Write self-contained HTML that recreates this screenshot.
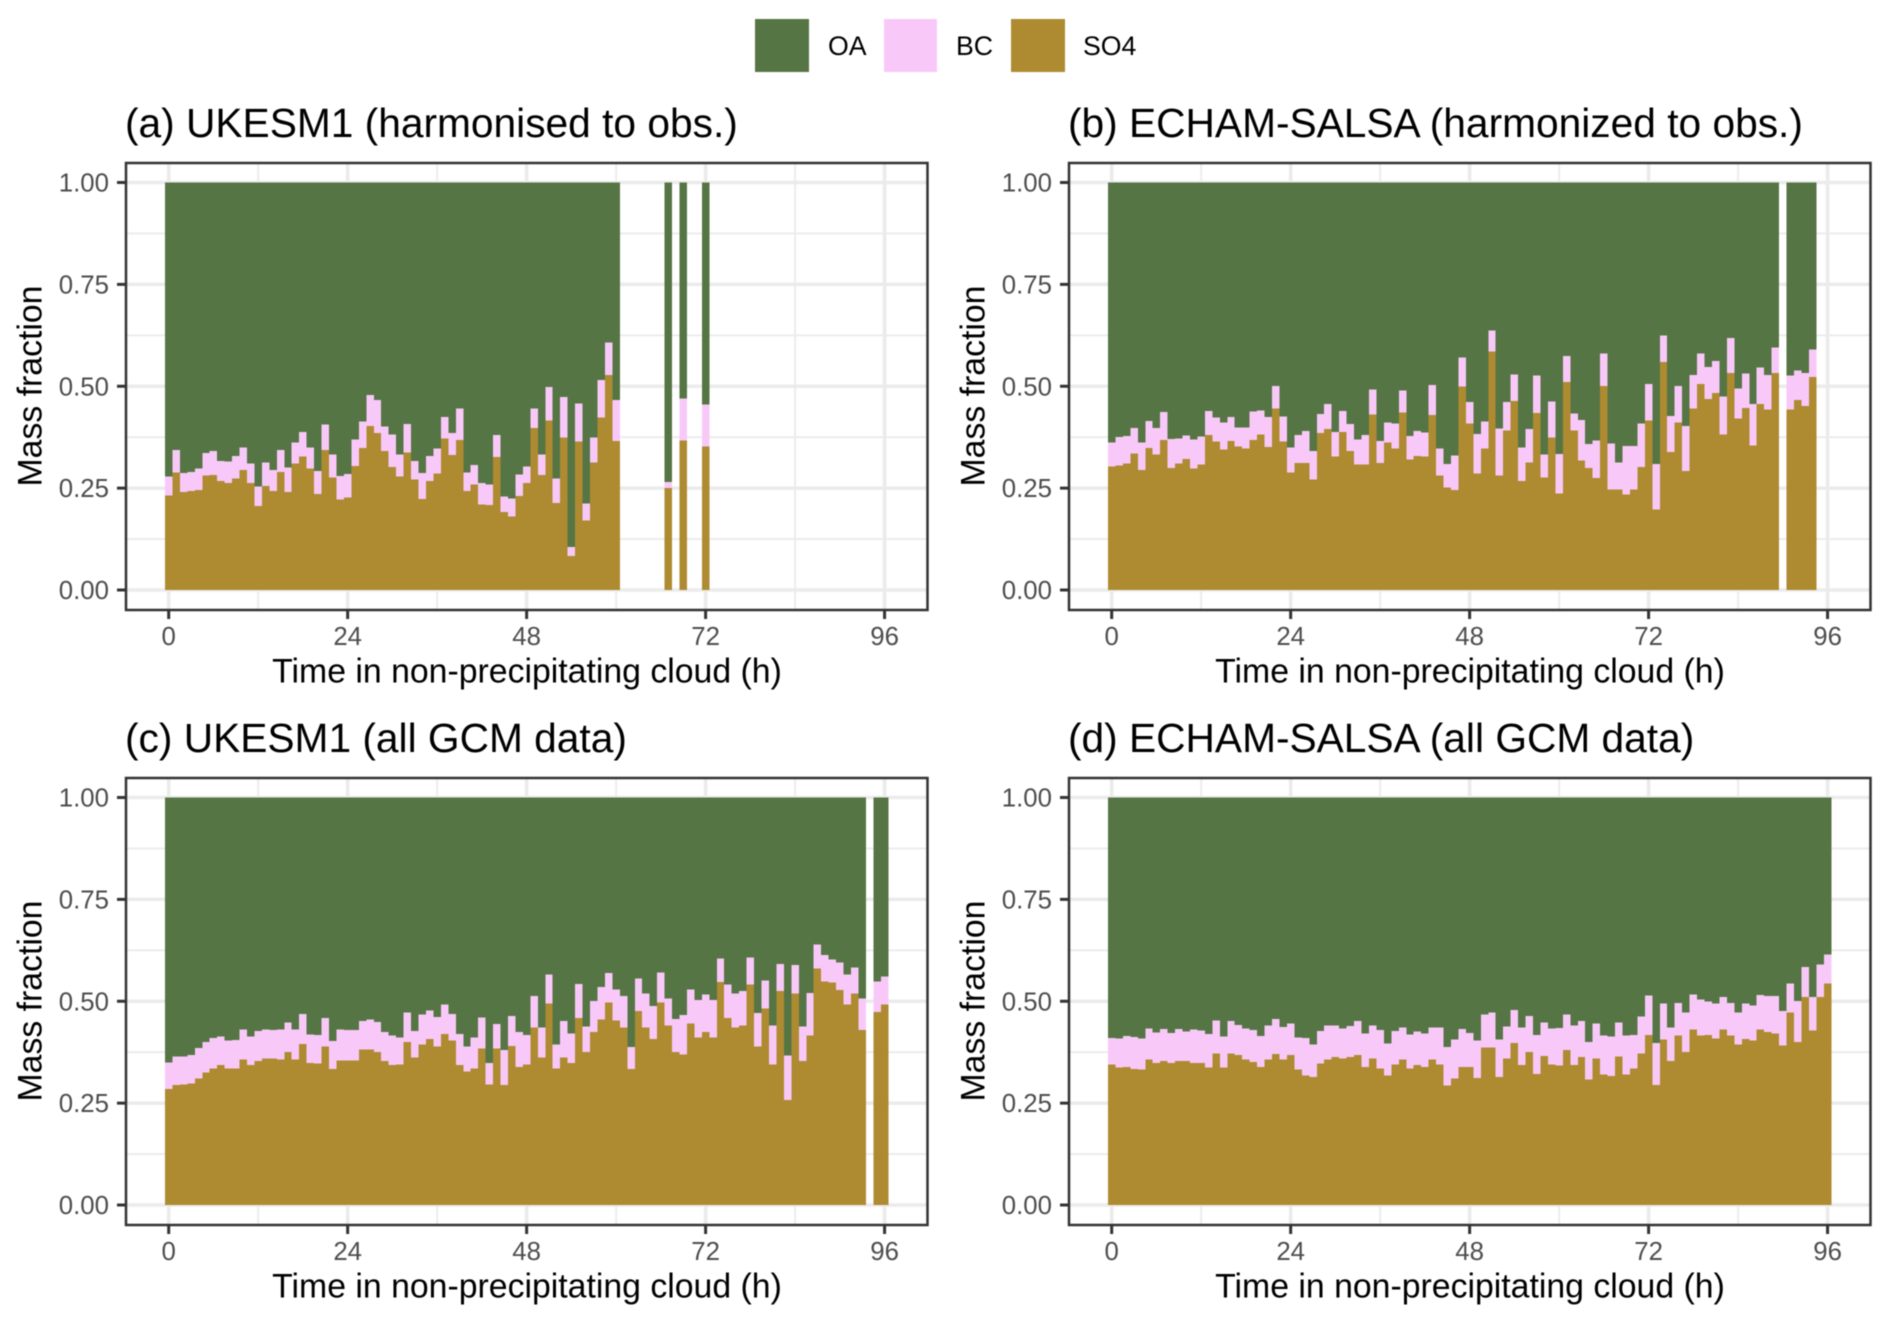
<!DOCTYPE html>
<html lang="en">
<head>
<meta charset="utf-8">
<title>Aerosol mass fraction vs time in non-precipitating cloud</title>
<style>
  html, body { margin: 0; padding: 0; background: #fff; }
  #figure { display: block; width: 1892px; height: 1323px; filter: blur(0.5px); font-family: "Liberation Sans", Arial, sans-serif; }
  .panel-title { font-size: 40.7px; fill: #000; }
  .axis-title { font-size: 33.8px; fill: #000; }
  .tick-label { font-size: 25.8px; fill: #4d4d4d; }
  .legend-label { font-size: 26.7px; fill: #000; }
</style>
</head>
<body>
<svg id="figure" xmlns="http://www.w3.org/2000/svg" width="1892" height="1323" viewBox="0 0 1892 1323">
  <rect x="0" y="0" width="1892" height="1323" fill="#ffffff"/>

  <g>
    <rect x="755" y="19" width="54" height="53" fill="#567545"/>
    <text class="legend-label" x="828" y="55">OA</text>
    <rect x="884" y="19" width="53" height="53" fill="#f8c9f8"/>
    <text class="legend-label" x="956" y="55">BC</text>
    <rect x="1011" y="19" width="54" height="53" fill="#ae8a31"/>
    <text class="legend-label" x="1083" y="55">SO4</text>
  </g>

  <g id="panel-a" transform="translate(126,163)">
    <g class="plot"></g>
    <text class="panel-title" x="-1" y="-26">(a) UKESM1 (harmonised to obs.)</text>
    <text class="axis-title" x="401" y="519.3" text-anchor="middle">Time in non-precipitating cloud (h)</text>
    <text class="axis-title" transform="translate(-84.4,223) rotate(-90)" text-anchor="middle">Mass fraction</text>
  </g>
  <g id="panel-b" transform="translate(1069,163)">
    <g class="plot"></g>
    <text class="panel-title" x="-1" y="-26">(b) ECHAM-SALSA (harmonized to obs.)</text>
    <text class="axis-title" x="401" y="519.3" text-anchor="middle">Time in non-precipitating cloud (h)</text>
    <text class="axis-title" transform="translate(-84.4,223) rotate(-90)" text-anchor="middle">Mass fraction</text>
  </g>
  <g id="panel-c" transform="translate(126,778)">
    <g class="plot"></g>
    <text class="panel-title" x="-1" y="-26">(c) UKESM1 (all GCM data)</text>
    <text class="axis-title" x="401" y="519.3" text-anchor="middle">Time in non-precipitating cloud (h)</text>
    <text class="axis-title" transform="translate(-84.4,223) rotate(-90)" text-anchor="middle">Mass fraction</text>
  </g>
  <g id="panel-d" transform="translate(1069,778)">
    <g class="plot"></g>
    <text class="panel-title" x="-1" y="-26">(d) ECHAM-SALSA (all GCM data)</text>
    <text class="axis-title" x="401" y="519.3" text-anchor="middle">Time in non-precipitating cloud (h)</text>
    <text class="axis-title" transform="translate(-84.4,223) rotate(-90)" text-anchor="middle">Mass fraction</text>
  </g>
</svg>

<script>
// Tick values and printed labels
const xTicks = [0, 24, 48, 72, 96];
const xTickLabels = ["0", "24", "48", "72", "96"];
const yTicks = [0, 0.25, 0.5, 0.75, 1];
const yTickLabels = ["0.00", "0.25", "0.50", "0.75", "1.00"];
const xMinorTicks = [12, 36, 60, 84];
const yMinorTicks = [0.125, 0.375, 0.625, 0.875];

// Mass fractions per hourly bin (index = hour). null = no data. OA is the remainder to 1.
const panelASo4 = [.2315,.288,.241,.243,.245,.281,.282,.268,.263,.274,.295,.263,.206,.255,.243,.290,.241,.311,.327,.298,.236,.343,.276,.222,.227,.304,.348,.403,.385,.341,.302,.279,.337,.271,.223,.268,.286,.372,.331,.368,.243,.259,.210,.208,.326,.192,.180,.231,.263,.398,.282,.416,.213,.374,.084,.364,.171,.313,.423,.527,.366,null,null,null,null,null,null,.250,null,.367,null,null,.352];
const panelABc = [.047,.056,.046,.046,.053,.055,.059,.049,.052,.055,.055,.047,.048,.058,.052,.054,.060,.051,.061,.052,.056,.063,.056,.058,.058,.065,.065,.076,.081,.060,.079,.053,.070,.046,.064,.061,.061,.053,.054,.077,.045,.048,.052,.051,.054,.038,.045,.052,.040,.047,.051,.082,.061,.100,.022,.094,.041,.061,.092,.080,.100,null,null,null,null,null,null,.015,null,.103,null,null,.103];

const panelBSo4 = [.303,.306,.311,.335,.294,.348,.333,.368,.300,.311,.321,.298,.308,.380,.364,.345,.366,.352,.347,.368,.381,.351,.445,.365,.288,.312,.312,.271,.385,.395,.327,.388,.341,.308,.308,.431,.312,.362,.347,.435,.320,.329,.327,.429,.281,.251,.245,.500,.409,.286,.347,.585,.281,.392,.464,.268,.313,.434,.276,.374,.237,.511,.392,.318,.300,.275,.501,.247,.247,.234,.247,.302,.416,.198,.560,.339,.411,.292,.445,.506,.469,.484,.382,.533,.421,.447,.354,.456,.443,.533,null,.443,.466,.452,.523];
const panelBBc = [.059,.069,.067,.062,.068,.067,.065,.069,.070,.061,.058,.071,.069,.059,.059,.066,.059,.047,.052,.070,.060,.073,.056,.061,.062,.068,.078,.070,.047,.061,.061,.051,.066,.061,.072,.061,.054,.049,.061,.054,.058,.061,.059,.074,.066,.058,.085,.070,.052,.097,.066,.052,.115,.069,.065,.082,.082,.092,.056,.088,.097,.063,.041,.099,.058,.092,.079,.113,.066,.119,.106,.106,.089,.111,.065,.088,.090,.111,.082,.074,.078,.078,.093,.086,.073,.084,.102,.090,.085,.062,null,.083,.073,.080,.067];

const panelCSo4 = [.285,.295,.296,.298,.311,.325,.335,.343,.335,.335,.357,.343,.353,.359,.359,.357,.375,.357,.395,.349,.347,.389,.334,.354,.354,.355,.382,.382,.375,.353,.344,.345,.400,.362,.394,.407,.389,.420,.404,.344,.328,.335,.384,.296,.384,.294,.390,.339,.345,.435,.362,.494,.335,.362,.349,.459,.376,.425,.455,.497,.453,.435,.334,.476,.435,.407,.497,.441,.375,.369,.445,.411,.424,.411,.547,.459,.435,.441,.541,.389,.482,.345,.525,.258,.519,.353,.416,.580,.549,.546,.528,.492,.519,.429,null,.474,.492];
const panelCBc = [.065,.069,.068,.070,.074,.075,.075,.071,.069,.070,.074,.070,.074,.072,.070,.074,.073,.074,.074,.070,.070,.070,.069,.077,.075,.074,.070,.073,.074,.071,.072,.066,.073,.065,.074,.070,.072,.072,.065,.076,.061,.076,.076,.052,.060,.086,.074,.086,.072,.078,.074,.072,.059,.090,.072,.083,.062,.076,.080,.072,.076,.078,.054,.080,.084,.081,.073,.066,.082,.097,.084,.092,.092,.092,.058,.082,.084,.084,.066,.082,.069,.096,.066,.109,.070,.085,.104,.059,.064,.057,.067,.074,.064,.078,null,.074,.069];

const panelDSo4 = [.345,.338,.339,.334,.332,.357,.349,.353,.348,.353,.353,.349,.349,.338,.372,.338,.372,.368,.357,.351,.339,.357,.371,.357,.368,.332,.318,.314,.347,.357,.363,.359,.363,.368,.339,.359,.335,.318,.345,.357,.335,.344,.339,.357,.345,.293,.310,.339,.339,.312,.386,.386,.314,.359,.398,.344,.376,.322,.366,.345,.342,.380,.344,.363,.308,.359,.320,.316,.365,.320,.335,.372,.417,.294,.406,.353,.416,.376,.431,.416,.417,.408,.431,.416,.394,.407,.404,.431,.425,.421,.392,.472,.400,.510,.428,.511,.543];
const panelDBc = [.065,.070,.076,.078,.076,.076,.074,.079,.074,.079,.073,.082,.079,.082,.081,.076,.079,.074,.076,.078,.076,.084,.086,.080,.077,.079,.092,.080,.080,.084,.078,.074,.076,.083,.082,.082,.094,.078,.082,.079,.084,.082,.082,.079,.090,.095,.096,.093,.083,.092,.082,.086,.092,.079,.080,.092,.088,.095,.082,.088,.092,.088,.097,.089,.092,.086,.096,.098,.083,.096,.082,.090,.097,.103,.088,.083,.080,.096,.086,.088,.083,.086,.080,.080,.078,.088,.086,.084,.088,.092,.084,.071,.101,.074,.083,.079,.072];

const panelSeries = [
  { id: "panel-a", key: "a", so4: panelASo4, bc: panelABc },
  { id: "panel-b", key: "b", so4: panelBSo4, bc: panelBBc },
  { id: "panel-c", key: "c", so4: panelCSo4, bc: panelCBc },
  { id: "panel-d", key: "d", so4: panelDSo4, bc: panelDBc }
];

const SVG_NS = "http://www.w3.org/2000/svg";
const PANEL_W = 801.5;
const PANEL_H = 447;
const COLORS = { oa: "#567545", bc: "#f8c9f8", so4: "#ae8a31" };

// Axis functions (panel-local pixels)
function xScale(hour) { return 42.7 + 7.457 * hour; }
function yScale(fraction) { return 427 - 407.5 * fraction; }

function makeLine(x1, y1, x2, y2, stroke, width) {
  const el = document.createElementNS(SVG_NS, "line");
  el.setAttribute("x1", x1);
  el.setAttribute("y1", y1);
  el.setAttribute("x2", x2);
  el.setAttribute("y2", y2);
  el.setAttribute("stroke", stroke);
  el.setAttribute("stroke-width", width);
  return el;
}

function makeBarSegment(hour, lower, upper, color) {
  const el = document.createElementNS(SVG_NS, "rect");
  el.setAttribute("x", xScale(hour - 0.5));
  el.setAttribute("width", xScale(hour + 0.5) - xScale(hour - 0.5));
  el.setAttribute("y", yScale(upper));
  el.setAttribute("height", yScale(lower) - yScale(upper));
  el.setAttribute("fill", color);
  el.setAttribute("shape-rendering", "crispEdges");
  return el;
}

panelSeries.forEach(function (panel) {
  const plot = document.querySelector("#" + panel.id + " .plot");

  // Gridlines
  yMinorTicks.forEach(function (v) {
    const el = makeLine(0, yScale(v), PANEL_W, yScale(v), "#ebebeb", 1.8);
    
    
    plot.appendChild(el);
  });
  xMinorTicks.forEach(function (h) {
    const el = makeLine(xScale(h), 0, xScale(h), PANEL_H, "#ebebeb", 1.8);
    
    
    plot.appendChild(el);
  });
  yTicks.forEach(function (v) {
    const el = makeLine(0, yScale(v), PANEL_W, yScale(v), "#ebebeb", 3.6);
    
    
    plot.appendChild(el);
  });
  xTicks.forEach(function (h) {
    const el = makeLine(xScale(h), 0, xScale(h), PANEL_H, "#ebebeb", 3.6);
    
    
    plot.appendChild(el);
  });

  // Stacked bars
  panel.so4.forEach(function (so4Value, hour) {
    const bcValue = panel.bc[hour];
    if (so4Value === null || bcValue === null) return;
    const so4Bar = makeBarSegment(hour, 0, so4Value, COLORS.so4);
    
    
    plot.appendChild(so4Bar);
    const bcBar = makeBarSegment(hour, so4Value, so4Value + bcValue, COLORS.bc);
    
    
    plot.appendChild(bcBar);
    const oaBar = makeBarSegment(hour, so4Value + bcValue, 1, COLORS.oa);
    
    
    plot.appendChild(oaBar);
  });

  // Panel border
  const border = document.createElementNS(SVG_NS, "rect");
  border.setAttribute("x", 0);
  border.setAttribute("y", 0);
  border.setAttribute("width", PANEL_W);
  border.setAttribute("height", PANEL_H);
  border.setAttribute("fill", "none");
  border.setAttribute("stroke", "#333333");
  border.setAttribute("stroke-width", 2.5);
  
  
  plot.appendChild(border);

  // Ticks and tick labels
  xTicks.forEach(function (h, i) {
    const tick = makeLine(xScale(h), PANEL_H, xScale(h), PANEL_H + 9, "#333333", 3);
    
    
    plot.appendChild(tick);
    const label = document.createElementNS(SVG_NS, "text");
    label.setAttribute("class", "tick-label");
    label.setAttribute("x", xScale(h));
    label.setAttribute("y", 482);
    label.setAttribute("text-anchor", "middle");
    label.textContent = xTickLabels[i];
    
    
    plot.appendChild(label);
  });
  yTicks.forEach(function (v, i) {
    const tick = makeLine(-9, yScale(v), 0, yScale(v), "#333333", 3);
    
    
    plot.appendChild(tick);
    const label = document.createElementNS(SVG_NS, "text");
    label.setAttribute("class", "tick-label");
    label.setAttribute("x", -17);
    label.setAttribute("y", yScale(v) + 9);
    label.setAttribute("text-anchor", "end");
    label.textContent = yTickLabels[i];
    
    
    plot.appendChild(label);
  });
});
</script>
</body>
</html>
